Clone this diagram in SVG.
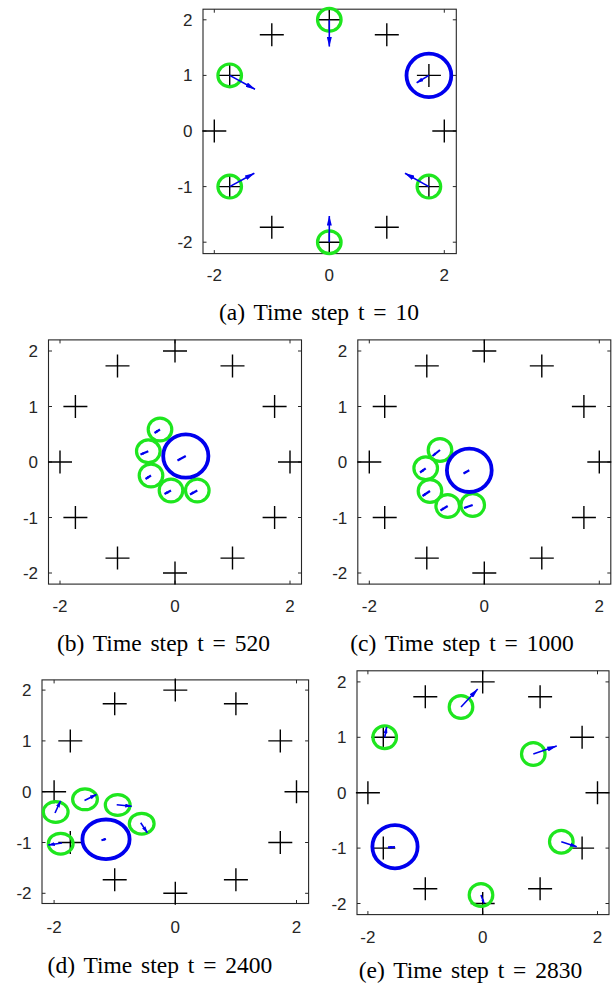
<svg xmlns="http://www.w3.org/2000/svg" xmlns:xlink="http://www.w3.org/1999/xlink" width="616" height="988" viewBox="0 0 616 988">
<style>
.ax{fill:none;stroke:#262626;stroke-width:1.1}
.tk{fill:none;stroke:#262626;stroke-width:1}
.tl{font-family:"Liberation Sans",Arial,sans-serif;font-size:17px;fill:#262626}
.yl{text-anchor:end}
.xl{text-anchor:middle}
.cap{font-family:"Liberation Serif","Times New Roman",serif;font-size:23.5px;fill:#000;text-anchor:middle;word-spacing:3px}
.pl{fill:none;stroke:#000;stroke-width:1.4}
.g{fill:none;stroke:#1ee61e;stroke-width:3.2}
.b{fill:none;stroke:#0000ee;stroke-width:3.8}
.q{fill:none;stroke:#0000ee;stroke-width:1.6}
.qs{fill:none;stroke:#0000ee;stroke-width:2.2}
</style>
<defs>
<path id="p" class="pl" d="M-12,0H12M0,-11.5V11.5"/>
<marker id="hL" viewBox="0 0 10 5" refX="9.5" refY="2.5" markerWidth="10" markerHeight="5" markerUnits="userSpaceOnUse" orient="auto"><path d="M0,0L10,2.5L0,5Z" fill="#0000ee"/></marker>
<marker id="hM" viewBox="0 0 7 4" refX="6.5" refY="2" markerWidth="7" markerHeight="4" markerUnits="userSpaceOnUse" orient="auto"><path d="M0,0L7,2L0,4Z" fill="#0000ee"/></marker>
<marker id="hS" viewBox="0 0 4 3" refX="3.8" refY="1.5" markerWidth="4" markerHeight="3" markerUnits="userSpaceOnUse" orient="auto"><path d="M0,0L4,1.5L0,3Z" fill="#0000ee"/></marker>
</defs>

<g id="panel-a">
<rect class="ax" x="203" y="9.2" width="253.3" height="244.4"/>
<path class="tk" d="M214.3,253.6V250.1M329.3,253.6V250.1M444.3,253.6V250.1M214.3,9.2V12.7M329.3,9.2V12.7M444.3,9.2V12.7M203,19.8H206.5M203,75.4H206.5M203,131H206.5M203,186.6H206.5M203,242.2H206.5M456.3,19.8H452.8M456.3,75.4H452.8M456.3,131H452.8M456.3,186.6H452.8M456.3,242.2H452.8"/>
<g class="tl yl"><text x="192.5" y="25.8">2</text><text x="192.5" y="81.4">1</text><text x="192.5" y="137">0</text><text x="192.5" y="192.6">-1</text><text x="192.5" y="248.2">-2</text></g>
<g class="tl xl"><text x="214.3" y="281">-2</text><text x="329.3" y="281">0</text><text x="444.3" y="281">2</text></g>
<g id="targets-a">
<use xlink:href="#p" x="329.3" y="19.8"/><use xlink:href="#p" x="386.8" y="34.7"/><use xlink:href="#p" x="428.9" y="75.4"/><use xlink:href="#p" x="444.3" y="131"/><use xlink:href="#p" x="428.9" y="186.6"/><use xlink:href="#p" x="386.8" y="227.3"/><use xlink:href="#p" x="329.3" y="242.2"/><use xlink:href="#p" x="271.8" y="227.3"/><use xlink:href="#p" x="229.7" y="186.6"/><use xlink:href="#p" x="214.3" y="131"/><use xlink:href="#p" x="229.7" y="75.4"/><use xlink:href="#p" x="271.8" y="34.7"/>
</g>
<g id="agents-a">
<ellipse class="g" cx="329.3" cy="19.8" rx="11.8" ry="11.4"/>
<ellipse class="g" cx="229.7" cy="75.4" rx="11.8" ry="11.4"/>
<ellipse class="g" cx="229.7" cy="186.6" rx="11.8" ry="11.4"/>
<ellipse class="g" cx="329.3" cy="242.2" rx="11.8" ry="11.4"/>
<ellipse class="g" cx="428.9" cy="186.6" rx="11.8" ry="11.4"/>
<ellipse class="b" cx="428.9" cy="75.4" rx="22.4" ry="21.7"/>
</g>
<g id="velocities-a">
<line class="q" x1="329.3" y1="19.8" x2="329.3" y2="46.5" marker-end="url(#hL)"/>
<line class="q" x1="229.7" y1="75.4" x2="255" y2="89.3" marker-end="url(#hL)"/>
<line class="q" x1="229.7" y1="186.6" x2="254.3" y2="173.3" marker-end="url(#hL)"/>
<line class="q" x1="329.3" y1="242.2" x2="329.3" y2="216" marker-end="url(#hL)"/>
<line class="q" x1="428.9" y1="186.6" x2="405" y2="173.3" marker-end="url(#hL)"/>
<line class="q" x1="428.9" y1="75.4" x2="416.7" y2="82.7" marker-end="url(#hM)"/>
</g>
<text class="cap" x="319" y="320">(a) Time step t = 10</text>
</g>

<g id="panel-b">
<rect class="ax" x="48.5" y="339.9" width="253" height="244.2"/>
<path class="tk" d="M60,584.1V580.6M175,584.1V580.6M290,584.1V580.6M60,339.9V343.4M175,339.9V343.4M290,339.9V343.4M48.5,351H52M48.5,406.5H52M48.5,462H52M48.5,517.5H52M48.5,573H52M301.5,351H298M301.5,406.5H298M301.5,462H298M301.5,517.5H298M301.5,573H298"/>
<g class="tl yl"><text x="38" y="357">2</text><text x="38" y="412.5">1</text><text x="38" y="468">0</text><text x="38" y="523.5">-1</text><text x="38" y="579">-2</text></g>
<g class="tl xl"><text x="60" y="612">-2</text><text x="175" y="612">0</text><text x="290" y="612">2</text></g>
<g id="targets-b">
<use xlink:href="#p" x="175" y="351"/><use xlink:href="#p" x="232.5" y="365.9"/><use xlink:href="#p" x="274.6" y="406.5"/><use xlink:href="#p" x="290" y="462"/><use xlink:href="#p" x="274.6" y="517.5"/><use xlink:href="#p" x="232.5" y="558.1"/><use xlink:href="#p" x="175" y="573"/><use xlink:href="#p" x="117.5" y="558.1"/><use xlink:href="#p" x="75.4" y="517.5"/><use xlink:href="#p" x="60" y="462"/><use xlink:href="#p" x="75.4" y="406.5"/><use xlink:href="#p" x="117.5" y="365.9"/>
</g>
<g id="agents-b">
<ellipse class="g" cx="160" cy="429.5" rx="11.8" ry="11.4"/>
<ellipse class="g" cx="148.3" cy="451.3" rx="11.8" ry="11.4"/>
<ellipse class="g" cx="151" cy="475.5" rx="11.8" ry="11.4"/>
<ellipse class="g" cx="171" cy="490.5" rx="11.8" ry="11.4"/>
<ellipse class="g" cx="197.3" cy="490.5" rx="11.8" ry="11.4"/>
<ellipse class="b" cx="185.8" cy="456" rx="22.6" ry="21.7"/>
</g>
<g id="velocities-b">
<line class="qs" x1="160" y1="429.5" x2="154.5" y2="433" marker-end="url(#hS)"/>
<line class="qs" x1="148.3" y1="451.3" x2="140.5" y2="454.5" marker-end="url(#hS)"/>
<line class="qs" x1="185.8" y1="456" x2="177.5" y2="460.5" marker-end="url(#hS)"/>
<line class="qs" x1="151" y1="475.5" x2="145.5" y2="479" marker-end="url(#hS)"/>
<line class="qs" x1="171" y1="490.5" x2="164.5" y2="494" marker-end="url(#hS)"/>
<line class="qs" x1="197.3" y1="490.5" x2="190" y2="494.5" marker-end="url(#hS)"/>
</g>
<text class="cap" x="163.5" y="651">(b) Time step t = 520</text>
</g>

<g id="panel-c">
<rect class="ax" x="357.8" y="339.9" width="253" height="244.2"/>
<path class="tk" d="M369.3,584.1V580.6M484.3,584.1V580.6M599.3,584.1V580.6M369.3,339.9V343.4M484.3,339.9V343.4M599.3,339.9V343.4M357.8,351H361.3M357.8,406.5H361.3M357.8,462H361.3M357.8,517.5H361.3M357.8,573H361.3M610.8,351H607.3M610.8,406.5H607.3M610.8,462H607.3M610.8,517.5H607.3M610.8,573H607.3"/>
<g class="tl yl"><text x="347.3" y="357">2</text><text x="347.3" y="412.5">1</text><text x="347.3" y="468">0</text><text x="347.3" y="523.5">-1</text><text x="347.3" y="579">-2</text></g>
<g class="tl xl"><text x="369.3" y="612">-2</text><text x="484.3" y="612">0</text><text x="599.3" y="612">2</text></g>
<g id="targets-c">
<use xlink:href="#p" x="484.3" y="351"/><use xlink:href="#p" x="541.8" y="365.9"/><use xlink:href="#p" x="583.9" y="406.5"/><use xlink:href="#p" x="599.3" y="462"/><use xlink:href="#p" x="583.9" y="517.5"/><use xlink:href="#p" x="541.8" y="558.1"/><use xlink:href="#p" x="484.3" y="573"/><use xlink:href="#p" x="426.8" y="558.1"/><use xlink:href="#p" x="384.7" y="517.5"/><use xlink:href="#p" x="369.3" y="462"/><use xlink:href="#p" x="384.7" y="406.5"/><use xlink:href="#p" x="426.8" y="365.9"/>
</g>
<g id="agents-c">
<ellipse class="g" cx="440" cy="450" rx="11.8" ry="11.4"/>
<ellipse class="g" cx="425.7" cy="468.3" rx="11.8" ry="11.4"/>
<ellipse class="g" cx="430" cy="491" rx="11.8" ry="11.4"/>
<ellipse class="g" cx="447.7" cy="506" rx="11.8" ry="11.4"/>
<ellipse class="g" cx="472.7" cy="505" rx="11.8" ry="11.4"/>
<ellipse class="b" cx="469.3" cy="470.3" rx="22.4" ry="21.7"/>
</g>
<g id="velocities-c">
<line class="qs" x1="440" y1="450" x2="432.5" y2="456" marker-end="url(#hS)"/>
<line class="qs" x1="425.7" y1="468.3" x2="420" y2="472.5" marker-end="url(#hS)"/>
<line class="qs" x1="469.3" y1="470.3" x2="463.5" y2="473.5" marker-end="url(#hS)"/>
<line class="qs" x1="430" y1="491" x2="422.5" y2="496" marker-end="url(#hS)"/>
<line class="qs" x1="447.7" y1="506" x2="440.5" y2="510.5" marker-end="url(#hS)"/>
<line class="qs" x1="472.7" y1="505" x2="464" y2="508" marker-end="url(#hS)"/>
</g>
<text class="cap" x="462" y="651">(c) Time step t = 1000</text>
</g>

<g id="panel-d">
<rect class="ax" x="42" y="679.9" width="266.6" height="223.6"/>
<path class="tk" d="M54.1,903.5V900M175.3,903.5V900M296.5,903.5V900M54.1,679.9V683.4M175.3,679.9V683.4M296.5,679.9V683.4M42,690.1H45.5M42,740.9H45.5M42,791.7H45.5M42,842.5H45.5M42,893.3H45.5M308.6,690.1H305.1M308.6,740.9H305.1M308.6,791.7H305.1M308.6,842.5H305.1M308.6,893.3H305.1"/>
<g class="tl yl"><text x="31.5" y="696.1">2</text><text x="31.5" y="746.9">1</text><text x="31.5" y="797.7">0</text><text x="31.5" y="848.5">-1</text><text x="31.5" y="899.3">-2</text></g>
<g class="tl xl"><text x="54.1" y="932.5">-2</text><text x="175.3" y="932.5">0</text><text x="296.5" y="932.5">2</text></g>
<g id="targets-d">
<use xlink:href="#p" x="175.3" y="690.1"/><use xlink:href="#p" x="235.9" y="703.7"/><use xlink:href="#p" x="280.3" y="740.9"/><use xlink:href="#p" x="296.5" y="791.7"/><use xlink:href="#p" x="280.3" y="842.5"/><use xlink:href="#p" x="235.9" y="879.7"/><use xlink:href="#p" x="175.3" y="893.3"/><use xlink:href="#p" x="114.7" y="879.7"/><use xlink:href="#p" x="70.3" y="842.5"/><use xlink:href="#p" x="54.1" y="791.7"/><use xlink:href="#p" x="70.3" y="740.9"/><use xlink:href="#p" x="114.7" y="703.7"/>
</g>
<g id="agents-d">
<ellipse class="g" cx="55.7" cy="812" rx="12.4" ry="10.4"/>
<ellipse class="g" cx="85" cy="799.3" rx="12.4" ry="10.4"/>
<ellipse class="g" cx="117.7" cy="805" rx="12.4" ry="10.4"/>
<ellipse class="g" cx="141.7" cy="823.7" rx="12.4" ry="10.4"/>
<ellipse class="g" cx="60.7" cy="843.7" rx="12.4" ry="10.4"/>
<ellipse class="b" cx="106" cy="839.3" rx="23.6" ry="19.8"/>
</g>
<g id="velocities-d">
<line class="q" x1="55" y1="813" x2="60.5" y2="801" marker-end="url(#hM)"/>
<line class="q" x1="84.5" y1="800.5" x2="96.5" y2="794.5" marker-end="url(#hM)"/>
<line class="q" x1="116.7" y1="804.7" x2="131.7" y2="806.2" marker-end="url(#hM)"/>
<line class="q" x1="140.7" y1="822.7" x2="147.3" y2="832.7" marker-end="url(#hM)"/>
<line class="q" x1="62" y1="843" x2="48.3" y2="845" marker-end="url(#hM)"/>
<line class="qs" x1="106" y1="839" x2="101.5" y2="840.2" marker-end="url(#hS)"/>
</g>
<text class="cap" x="160" y="973">(d) Time step t = 2400</text>
</g>

<g id="panel-e">
<rect class="ax" x="357" y="670.8" width="252" height="243.8"/>
<path class="tk" d="M367.9,914.6V911.1M482.7,914.6V911.1M597.5,914.6V911.1M367.9,670.8V674.3M482.7,670.8V674.3M597.5,670.8V674.3M357,681.9H360.5M357,737.3H360.5M357,792.7H360.5M357,848.1H360.5M357,903.5H360.5M609,681.9H605.5M609,737.3H605.5M609,792.7H605.5M609,848.1H605.5M609,903.5H605.5"/>
<g class="tl yl"><text x="346.5" y="687.9">2</text><text x="346.5" y="743.3">1</text><text x="346.5" y="798.7">0</text><text x="346.5" y="854.1">-1</text><text x="346.5" y="909.5">-2</text></g>
<g class="tl xl"><text x="367.9" y="943">-2</text><text x="482.7" y="943">0</text><text x="597.5" y="943">2</text></g>
<g id="targets-e">
<use xlink:href="#p" x="482.7" y="681.9"/><use xlink:href="#p" x="540.1" y="696.7"/><use xlink:href="#p" x="582.1" y="737.3"/><use xlink:href="#p" x="597.5" y="792.7"/><use xlink:href="#p" x="582.1" y="848.1"/><use xlink:href="#p" x="540.1" y="888.7"/><use xlink:href="#p" x="482.7" y="903.5"/><use xlink:href="#p" x="425.3" y="888.7"/><use xlink:href="#p" x="383.3" y="848.1"/><use xlink:href="#p" x="367.9" y="792.7"/><use xlink:href="#p" x="383.3" y="737.3"/><use xlink:href="#p" x="425.3" y="696.7"/>
</g>
<g id="agents-e">
<ellipse class="g" cx="384.7" cy="737.3" rx="11.8" ry="11.4"/>
<ellipse class="g" cx="461" cy="707" rx="11.8" ry="11.4"/>
<ellipse class="g" cx="533.3" cy="754" rx="11.8" ry="11.4"/>
<ellipse class="g" cx="561.3" cy="841.7" rx="11.8" ry="11.4"/>
<ellipse class="g" cx="481" cy="895" rx="11.8" ry="11.4"/>
<ellipse class="b" cx="395" cy="846.7" rx="22.6" ry="21.6"/>
</g>
<g id="velocities-e">
<line class="q" x1="384.7" y1="737.3" x2="386.7" y2="727" marker-end="url(#hM)"/>
<line class="q" x1="461" y1="707" x2="477.7" y2="689" marker-end="url(#hL)"/>
<line class="q" x1="533.3" y1="754" x2="556.7" y2="746" marker-end="url(#hL)"/>
<line class="q" x1="561.3" y1="841.7" x2="576.7" y2="846.7" marker-end="url(#hM)"/>
<line class="q" x1="481" y1="895" x2="484" y2="903.3" marker-end="url(#hS)"/>
<line class="qs" x1="395" y1="847" x2="388" y2="847.3" marker-end="url(#hS)"/>
</g>
<text class="cap" x="470.5" y="978">(e) Time step t = 2830</text>
</g>
</svg>
